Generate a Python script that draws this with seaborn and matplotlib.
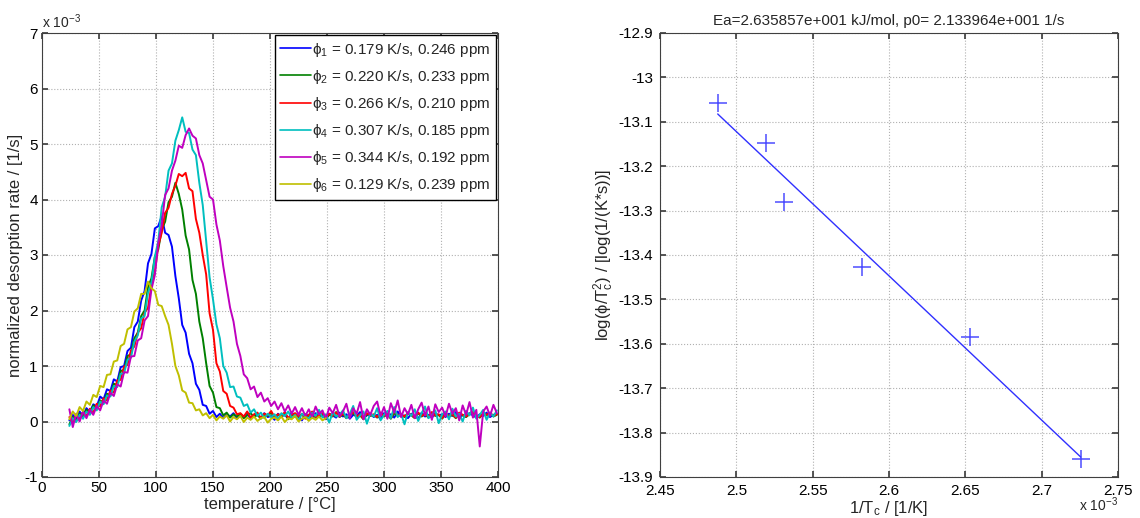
import numpy as np
import pandas as pd
import matplotlib
matplotlib.use("Agg")
import matplotlib.pyplot as plt
import seaborn as sns

# ---------------- data ----------------
temperature = list(range(24, 400, 3))  # °C sampling grid

# normalized desorption rate, in units of 1e-3 1/s
phi1 = [0.02, 0.12, 0.05, 0.18, 0.10, 0.24, 0.17, 0.31, 0.27, 0.45,
        0.40, 0.58, 0.55, 0.76, 0.72, 0.98, 1.00, 1.27, 1.33, 1.70,
        1.80, 2.18, 2.35, 2.85, 3.02, 3.48, 3.52, 3.70, 3.40, 3.36,
        3.15, 2.62, 2.22, 1.74, 1.60, 1.22, 1.05, 0.68, 0.57, 0.30,
        0.28, 0.14, 0.19, 0.08, 0.14, 0.06, 0.13, 0.09, 0.15, 0.05,
        0.12, 0.07, 0.16, 0.04, 0.11, 0.13, 0.06, 0.15, 0.08, 0.10,
        0.03, 0.14, 0.09, 0.12, 0.05, 0.16, 0.08, 0.11, 0.02, 0.13,
        0.10, 0.06, 0.15, 0.09, 0.12, 0.04, 0.14, 0.11, 0.07, 0.16,
        0.09, 0.13, 0.05, 0.12, 0.10, 0.17, 0.06, 0.11, 0.14, 0.08,
        0.12, 0.04, 0.15, 0.10, 0.13, 0.07, 0.18, 0.09, 0.11, 0.06,
        0.14, 0.10, 0.05, 0.16, 0.09, 0.12, 0.07, 0.15, 0.11, 0.13,
        0.08, 0.14, 0.10, 0.17, 0.06, 0.12, 0.09, 0.15, 0.11, 0.07,
        0.13, 0.10, 0.16, 0.08, 0.12, 0.14]
phi2 = [-0.05, 0.08, 0.01, 0.14, 0.09, 0.21, 0.15, 0.29, 0.23, 0.38,
        0.34, 0.50, 0.47, 0.68, 0.66, 0.91, 0.93, 1.18, 1.21, 1.50,
        1.60, 1.90, 2.00, 2.42, 2.58, 2.97, 3.10, 3.46, 3.60, 3.95,
        4.05, 4.30, 4.10, 3.82, 3.35, 3.10, 2.55, 2.30, 1.80, 1.50,
        1.05, 0.64, 0.52, 0.26, 0.24, 0.11, 0.16, 0.07, 0.13, 0.09,
        0.14, 0.06, 0.11, 0.15, 0.08, 0.12, 0.05, 0.13, 0.10, 0.16,
        0.07, 0.12, 0.09, 0.15, 0.04, 0.11, 0.14, 0.08, 0.13, 0.06,
        0.11, 0.16, 0.07, 0.10, 0.14, 0.05, 0.12, 0.09, 0.17, 0.08,
        0.13, 0.06, 0.12, 0.15, 0.08, 0.11, 0.04, 0.14, 0.10, 0.12,
        0.07, 0.16, 0.09, 0.13, 0.05, 0.15, 0.10, 0.12, 0.08, 0.14,
        0.11, 0.06, 0.15, 0.09, 0.13, 0.07, 0.16, 0.10, 0.12, 0.05,
        0.14, 0.09, 0.12, 0.06, 0.15, 0.11, 0.08, 0.13, 0.16, 0.10,
        0.07, 0.14, 0.11, 0.15, 0.09, 0.12]
phi3 = [0.08, -0.02, 0.12, 0.05, 0.17, 0.10, 0.23, 0.16, 0.32, 0.27,
        0.42, 0.38, 0.56, 0.52, 0.74, 0.75, 0.99, 1.02, 1.28, 1.35,
        1.60, 1.68, 1.96, 2.05, 2.46, 2.70, 3.16, 3.40, 3.76, 3.85,
        4.10, 4.25, 4.46, 4.42, 4.48, 4.20, 4.15, 3.65, 3.40, 3.00,
        2.65, 1.95, 1.65, 1.05, 0.90, 0.55, 0.50, 0.28, 0.25, 0.13,
        0.15, 0.09, 0.18, 0.07, 0.13, 0.16, 0.06, 0.14, 0.11, 0.19,
        0.08, 0.13, 0.10, 0.17, 0.06, 0.12, 0.15, 0.09, 0.14, 0.05,
        0.12, 0.18, 0.08, 0.11, 0.15, 0.06, 0.14, 0.10, 0.16, 0.09,
        0.14, 0.07, 0.12, 0.17, 0.09, 0.13, 0.05, 0.15, 0.11, 0.13,
        0.08, 0.16, 0.10, 0.14, 0.06, 0.20, 0.11, 0.13, 0.09, 0.15,
        0.12, 0.07, 0.16, 0.10, 0.14, 0.08, 0.17, 0.11, 0.13, 0.06,
        0.15, 0.10, 0.13, 0.07, 0.16, 0.12, 0.09, 0.14, 0.17, 0.11,
        0.08, 0.15, 0.12, 0.16, 0.10, 0.13]
phi4 = [-0.08, 0.06, -0.01, 0.12, 0.05, 0.18, 0.12, 0.26, 0.20, 0.36,
        0.31, 0.47, 0.45, 0.64, 0.62, 0.86, 0.87, 1.11, 1.15, 1.44,
        1.55, 1.86, 1.90, 2.32, 2.50, 2.97, 3.25, 3.86, 4.05, 4.52,
        4.65, 5.06, 5.25, 5.48, 5.22, 5.20, 4.90, 4.80, 4.30, 3.90,
        3.25, 2.60, 2.20, 1.75, 1.50, 1.00, 0.88, 0.62, 0.63, 0.45,
        0.43, 0.28, 0.31, 0.16, 0.22, 0.10, 0.16, 0.06, 0.14, 0.08,
        0.13, 0.04, 0.15, 0.10, 0.18, 0.06, 0.12, 0.02, 0.14, 0.09,
        0.05, 0.16, 0.10, 0.21, 0.07, 0.13, -0.02, 0.17, 0.09, 0.12,
        0.20, 0.06, 0.14, 0.28, 0.03, 0.11, 0.18, -0.04, 0.15, 0.09,
        0.24, 0.02, 0.12, 0.19, 0.06, 0.26, 0.08, 0.14, -0.05, 0.17,
        0.10, 0.22, 0.01, 0.15, 0.27, 0.06, 0.12, 0.20, -0.03, 0.13,
        0.18, 0.04, 0.23, 0.09, 0.14, 0.00, 0.19, 0.11, 0.25, 0.05,
        0.12, 0.21, 0.03, 0.16, 0.09, 0.20]
phi5 = [0.22, -0.10, 0.14, 0.00, 0.18, 0.06, 0.21, 0.12, 0.28, 0.20,
        0.38, 0.32, 0.52, 0.46, 0.67, 0.63, 0.89, 0.88, 1.17, 1.18,
        1.46, 1.50, 1.82, 1.90, 2.38, 2.64, 3.22, 3.54, 4.08, 4.20,
        4.52, 4.70, 4.97, 4.93, 5.16, 5.28, 5.15, 5.10, 4.80, 4.65,
        4.35, 4.05, 4.00, 3.55, 3.26, 2.80, 2.42, 2.05, 1.80, 1.40,
        1.18, 0.85, 0.78, 0.58, 0.63, 0.44, 0.52, 0.36, 0.42, 0.28,
        0.36, 0.22, 0.33, 0.18, 0.29, 0.14, 0.26, 0.12, 0.24, 0.10,
        0.22, 0.08, 0.27, 0.13, 0.20, 0.05, 0.25, 0.15, 0.30, 0.09,
        0.18, 0.32, 0.06, 0.24, 0.14, 0.35, 0.04, 0.22, 0.12, 0.28,
        0.36, 0.10, 0.26, 0.05, 0.33, 0.16, 0.38, 0.08, 0.24, 0.13,
        0.30, 0.06, 0.22, 0.34, 0.11, 0.27, 0.03, 0.31, 0.17, 0.25,
        0.09, 0.32, 0.14, 0.24, 0.02, 0.29, 0.12, 0.35, 0.07, 0.21,
        -0.45, 0.18, 0.27, 0.10, 0.30, 0.15]
phi6 = [0.04, 0.18, 0.10, 0.26, 0.19, 0.36, 0.30, 0.48, 0.44, 0.64,
        0.62, 0.84, 0.85, 1.08, 1.10, 1.36, 1.40, 1.66, 1.70, 1.98,
        2.04, 2.30, 2.30, 2.52, 2.40, 2.35, 2.10, 2.08, 1.90, 1.74,
        1.40, 1.00, 0.83, 0.56, 0.52, 0.34, 0.33, 0.20, 0.22, 0.11,
        0.15, 0.06, 0.12, 0.02, 0.09, 0.05, 0.11, 0.00, 0.08, 0.04,
        0.10, -0.01, 0.07, 0.03, 0.09, 0.01, 0.06, 0.08, -0.02, 0.05,
        0.07, 0.02, 0.09, -0.01, 0.06, 0.04, 0.10, 0.00, 0.05, 0.08,
        0.01, 0.07, 0.03, 0.09, 0.02, 0.06]

series_labels = ["ϕ$_1$ = 0.179 K/s, 0.246 ppm",
                 "ϕ$_2$ = 0.220 K/s, 0.233 ppm",
                 "ϕ$_3$ = 0.266 K/s, 0.210 ppm",
                 "ϕ$_4$ = 0.307 K/s, 0.185 ppm",
                 "ϕ$_5$ = 0.344 K/s, 0.192 ppm",
                 "ϕ$_6$ = 0.129 K/s, 0.239 ppm"]
series_colors = ["#0000ff", "#008000", "#ff0000", "#00bfbf", "#bf00bf", "#bfbf00"]

# Arrhenius (Kissinger) plot data; 1/Tc in units of 1e-3 1/K
inv_tc = [2.4878, 2.5192, 2.5314, 2.5825, 2.6530, 2.7256]
log_rate = [-13.057, -13.147, -13.280, -13.428, -13.584, -13.859]

# ---------------- style ----------------
sns.set_theme(style="white")
plt.rcParams.update({
    "font.family": ["Liberation Sans", "DejaVu Sans"],
    "mathtext.fontset": "custom",
    "mathtext.rm": "Liberation Sans",
    "mathtext.it": "Liberation Sans",
    "mathtext.sf": "Liberation Sans",
    "mathtext.default": "regular",
    "axes.unicode_minus": False,
    "axes.edgecolor": "#404040",
    "axes.linewidth": 0.8,
    "xtick.direction": "in",
    "ytick.direction": "in",
    "xtick.top": True,
    "ytick.right": True,
    "xtick.bottom": True,
    "ytick.left": True,
    "xtick.color": "#404040",
    "ytick.color": "#404040",
    "xtick.labelcolor": "black",
    "ytick.labelcolor": "black",
    "xtick.major.size": 4,
    "ytick.major.size": 4,
    "xtick.major.pad": 3,
    "ytick.major.pad": 3,
    "font.size": 10,
})

fig = plt.figure(figsize=(11.4, 5.18), dpi=100)
ax1 = fig.add_axes([42 / 1140, 41 / 518, 456 / 1140, 444 / 518])
ax2 = fig.add_axes([660 / 1140, 41 / 518, 458 / 1140, 444 / 518])

# ---------------- left panel ----------------
frames = []
for lab, vals in zip(series_labels, [phi1, phi2, phi3, phi4, phi5, phi6]):
    frames.append(pd.DataFrame({"temperature": temperature[:len(vals)],
                                "rate": vals, "series": lab}))
df = pd.concat(frames, ignore_index=True)

sns.lineplot(data=df, x="temperature", y="rate", hue="series",
             palette=dict(zip(series_labels, series_colors)),
             estimator=None, sort=False, lw=1.4, ax=ax1)
handles, labels = ax1.get_legend_handles_labels()
for h in handles:
    h.set_linewidth(1.2)
ax1.legend(handles, labels, loc="upper right", frameon=True, fancybox=False,
           edgecolor="black", framealpha=1, fontsize=11, handlelength=2.0,
           handletextpad=0.1, borderaxespad=0.15, labelspacing=0.6,
           borderpad=0.35)

ax1.set_xlim(0, 400)
ax1.set_ylim(-1, 7)
ax1.set_xticks(range(0, 401, 50))
ax1.set_yticks(range(-1, 8))
ax1.grid(True, linestyle=":", color="#b0b0b0", lw=0.8)
ax1.set_xlabel("temperature / [°C]", labelpad=1)
ax1.set_ylabel("normalized desorption rate / [1/s]", labelpad=1)
ax1.text(0.0, 1.005, r"x 10$^{-3}$", transform=ax1.transAxes,
         ha="left", va="bottom", fontsize=10)

# ---------------- right panel ----------------
sns.regplot(x=inv_tc, y=log_rate, ci=None, marker="+", color="#2020ff",
            scatter_kws={"s": 180, "linewidths": 1.1},
            line_kws={"lw": 1.0, "color": "#3030ff"}, truncate=True, ax=ax2)
ax2.set_xlim(2.45, 2.75)
ax2.set_ylim(-13.9, -12.9)
xt = [2.45, 2.5, 2.55, 2.6, 2.65, 2.7, 2.75]
yt = [-12.9, -13.0, -13.1, -13.2, -13.3, -13.4, -13.5, -13.6, -13.7, -13.8, -13.9]
ax2.set_xticks(xt)
ax2.set_xticklabels([f"{v:g}" for v in xt])
ax2.set_yticks(yt)
ax2.set_yticklabels([f"{v:g}" for v in yt])
ax2.tick_params(axis="x", pad=5)
ax2.tick_params(axis="y", pad=5)
ax2.grid(True, linestyle=":", color="#b0b0b0", lw=0.8)
ax2.set_title("Ea=2.635857e+001 kJ/mol, p0= 2.133964e+001 1/s", fontsize=11, pad=6)
ax2.set_xlabel(r"1/T$_c$ / [1/K]", labelpad=1)
ax2.set_ylabel(r"log(ϕ/T$_c^2$) / [log(1/(K*s))]", labelpad=2)
ax2.text(1.0, -0.042, r"x 10$^{-3}$", transform=ax2.transAxes,
         ha="right", va="top", fontsize=10)

fig.savefig("out.png", dpi=100)
